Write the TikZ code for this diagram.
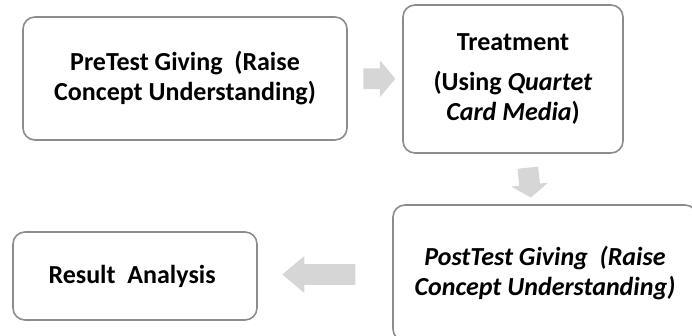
\documentclass[tikz,border=0pt]{standalone}
\usepackage{fontspec}
\setmainfont{Carlito}
\usepackage{tikz}
\usetikzlibrary{
	shapes,
	calc}

\definecolor{boxline}{RGB}{140,140,140}
\definecolor{flowgray}{RGB}{214,214,214}

\begin{document}
\begin{tikzpicture}[x=1pt,y=1pt,every text node part/.style={align=center}]
  \tikzstyle{stage}=[rectangle,draw=boxline,line width=1.6pt,rounded corners=12pt,
    fill=white,inner sep=2pt,font=\fontsize{26}{30}\selectfont\bfseries]
  \tikzstyle{flow}=[single arrow,fill=flowgray,draw=none,inner xsep=0pt,inner ysep=10pt,
    minimum width=37pt,single arrow head extend=8pt]

  \useasboundingbox (0,0) rectangle (692,335);

  \node [stage,minimum width=324pt,minimum height=123pt] (pre) at (185,256.5) {
    PreTest Giving\ \ (Raise\\
    Concept Understanding)
  };
  \node [stage,minimum width=220pt,minimum height=148pt] (treat) at (513,256) {
    Treatment\\[10pt]
    (Using \textit{Quartet}\\
    \textit{Card Media})
  };
  \node [stage,minimum width=304pt,minimum height=136pt] (post) at (545,62) {
    \textit{PostTest Giving\ \ (Raise}\\
    \textit{Concept Understanding)}
  };
  \node [stage,minimum width=244pt,minimum height=88pt] (result) at (135,59) {
    Result\ \ Analysis
  };

  % block arrows between the stages
  \node [flow,minimum height=32pt,single arrow tip angle=100] (f1)
    at ($(pre.east)!0.5!(treat.west)$) {};
  \node [flow,minimum height=30pt,rotate=-84,single arrow tip angle=110] (f2)
    at ($(treat.south)!0.5!(post.north)$) {};
  \node [flow,minimum height=73pt,rotate=180,single arrow tip angle=80] (f3)
    at ($(result.east)!0.5!(post.west)$) {};
\end{tikzpicture}
\end{document}
